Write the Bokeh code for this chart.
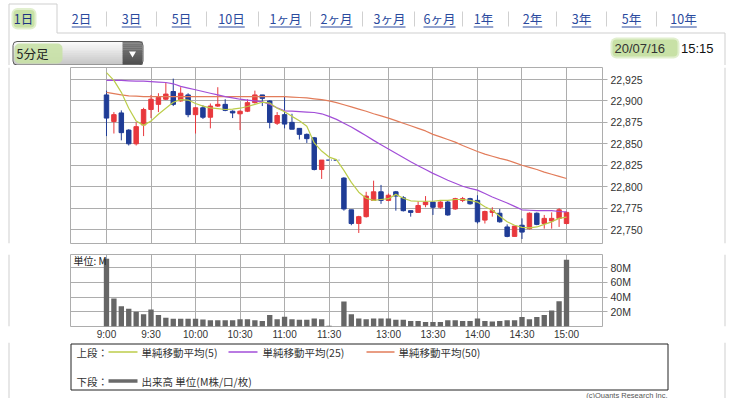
from bokeh.plotting import figure
from bokeh.layouts import column, row
from bokeh.models import Range1d, LinearAxis, FixedTicker, NumeralTickFormatter, Grid
from bokeh.core.properties import value
from bokeh.embed import file_html
from bokeh.resources import INLINE

# ---------------- data ----------------
tab_labels = ["1日", "2日", "3日", "5日", "10日", "1ヶ月", "2ヶ月", "3ヶ月", "6ヶ月",
              "1年", "2年", "3年", "5年", "10年"]
interval_label = "5分足"
date_label = "20/07/16"
clock_label = "15:15"
unit_label = "単位: M"
credit_label = "(c)Quants Research Inc."

time_labels = ["9:00", "9:30", "10:00", "10:30", "11:00", "11:30",
               "13:00", "13:30", "14:00", "14:30", "15:00"]
time_positions = [0, 6, 12, 18, 24, 30, 38, 44, 50, 56, 62]
price_ticks = [22750, 22775, 22800, 22825, 22850, 22875, 22900, 22925]
volume_ticks = [20, 40, 60, 80]
volume_tick_labels = ["20M", "40M", "60M", "80M"]

bars = list(range(63))
opens = [22907, 22876, 22886, 22866, 22850, 22872, 22890, 22896, 22902, 22911,
         22900, 22907, 22884, 22892, 22881, 22894, 22896, 22888, 22885, 22888,
         22898, 22907, 22900, 22874, 22884, 22875, 22868, 22861, 22857, 22820,
         22831, 22831, 22810, 22773, 22757, 22765, 22784, 22794, 22784, 22794,
         22787, 22772, 22770, 22779, 22782, 22776, 22782, 22774, 22784, 22786,
         22784, 22761, 22770, 22769, 22753, 22742, 22755, 22751, 22769, 22757,
         22760, 22763, 22757]
highs = [22912, 22887, 22889, 22867, 22875, 22892, 22907, 22909, 22921, 22926,
         22916, 22909, 22893, 22895, 22897, 22916, 22902, 22889, 22889, 22902,
         22912, 22907, 22901, 22887, 22905, 22885, 22868, 22862, 22858, 22831,
         22831, 22831, 22811, 22773, 22766, 22794, 22807, 22802, 22792, 22795,
         22789, 22772, 22783, 22789, 22782, 22783, 22784, 22787, 22788, 22787,
         22790, 22772, 22776, 22774, 22756, 22754, 22763, 22770, 22770, 22767,
         22770, 22775, 22771]
lows = [22859, 22862, 22854, 22848, 22848, 22859, 22880, 22887, 22901, 22894,
        22899, 22881, 22862, 22879, 22868, 22893, 22888, 22880, 22866, 22887,
        22897, 22894, 22868, 22872, 22868, 22867, 22855, 22851, 22819, 22809,
        22831, 22831, 22772, 22755, 22746, 22764, 22784, 22780, 22783, 22772,
        22771, 22765, 22770, 22776, 22767, 22774, 22766, 22773, 22782, 22779,
        22757, 22757, 22765, 22758, 22741, 22742, 22739, 22750, 22755, 22751,
        22751, 22753, 22756]
closes = [22880, 22884, 22863, 22850, 22870, 22890, 22902, 22904, 22908, 22896,
          22909, 22884, 22892, 22881, 22894, 22896, 22889, 22886, 22888, 22898,
          22907, 22903, 22875, 22883, 22873, 22867, 22861, 22856, 22820, 22831,
          22831, 22831, 22774, 22757, 22765, 22789, 22794, 22784, 22790, 22789,
          22772, 22770, 22778, 22782, 22776, 22782, 22767, 22786, 22786, 22780,
          22759, 22771, 22772, 22759, 22742, 22754, 22747, 22769, 22756, 22763,
          22763, 22773, 22770]
volumes = [92, 38, 27.5, 24, 20, 16.5, 23, 15.5, 12, 10.5,
           10.5, 10.5, 10.5, 9.5, 8.5, 8.5, 8.5, 8.5, 9.8, 9.8,
           8.5, 7.5, 15.5, 10, 13.3, 10, 9, 9, 10.7, 10,
           1, 0, 34, 16.5, 10.7, 9.8, 10.7, 10.7, 10.7, 9,
           9, 7.6, 7.6, 6.2, 6.2, 6.2, 8.4, 8.4, 7.6, 7.6,
           10.7, 7.6, 6.7, 7.6, 8.4, 8.4, 12.9, 9.8, 12.9, 15.6,
           21.8, 34.2, 90.7]
ma5 = [22933, 22924, 22910, 22891.5, 22876.5, 22871.5, 22876.5, 22884.5, 22891.5, 22898.5,
       22901.5, 22901, 22897, 22894, 22892, 22891, 22890, 22890.5, 22891.5, 22893.5,
       22896, 22898.5, 22897.5, 22891.5, 22887.5, 22882, 22877, 22870.5, 22851, 22841.5,
       22834.5, 22831.5, 22819, 22805, 22793.5, 22786.5, 22784, 22785, 22786, 22791,
       22786.5, 22783.5, 22783, 22783, 22783, 22784, 22784, 22785, 22785, 22784,
       22782, 22776.5, 22772.5, 22765.5, 22759, 22755, 22752.5, 22752, 22753, 22756,
       22759, 22763, 22764.5]
ma25 = [22924, 22924, 22924, 22923.5, 22923, 22923, 22922.5, 22922, 22921.5, 22920,
        22917, 22915, 22913, 22911, 22909, 22907, 22905, 22903.5, 22902, 22901,
        22900, 22899, 22896, 22892, 22888.5, 22888, 22887.5, 22887, 22886.5, 22885,
        22882, 22878.5, 22874, 22869.5, 22864.5, 22859.5, 22854, 22849, 22844, 22839,
        22834, 22829, 22824.5, 22820, 22815.5, 22811.5, 22807.5, 22804, 22800.5, 22798,
        22796, 22792, 22788, 22784.5, 22781, 22777, 22773, 22772.5, 22772, 22772,
        22772, 22771, 22770.5]
ma50 = [22910, 22908.5, 22907, 22906, 22905.5, 22905, 22905, 22905, 22905, 22905,
        22905, 22905, 22905, 22905, 22905, 22905, 22905, 22905, 22905, 22905,
        22905, 22905, 22905, 22905, 22905, 22904.5, 22904, 22903.5, 22902.5, 22901.5,
        22900, 22898, 22895.5, 22893, 22890.5, 22888, 22885, 22882.5, 22880, 22877,
        22874, 22871, 22868, 22865, 22861, 22858, 22855, 22852, 22848, 22844.5,
        22841, 22838, 22835.5, 22833, 22831, 22828, 22825, 22822.5, 22820, 22817,
        22814.5, 22812, 22809.5]
legend_upper = ["単純移動平均(5)", "単純移動平均(25)", "単純移動平均(50)"]
legend_lower = "出来高 単位(M株/口/枚)"

# ---------------- styles ----------------
RED = "#e8383d"
BLUE = "#1f3c96"
C_MA5 = "#bccd4a"
C_MA25 = "#a24ed8"
C_MA50 = "#e27c5a"
GRID = "#adadad"
VOL = "#666666"
PANEL = "#cfcfcf"
TXT = "#333333"
LINK = "#2a4a9e"
GREEN = "#c8e1a6"
JP = value("Noto Sans CJK JP")
LAT = value("Liberation Sans")


def canvas(w, h, x0, y0):
    c = figure(width=w, height=h, x_range=Range1d(x0, x0 + w), y_range=Range1d(y0 + h, y0),
               x_axis_location=None, y_axis_location=None, toolbar_location=None,
               output_backend="svg", min_border=0, outline_line_color=None,
               background_fill_color="white", border_fill_color="white")
    c.grid.visible = False
    return c


def side_pad(w, h, x0, y0, line_x):
    c = canvas(w, h, x0, y0)
    c.segment(x0=[line_x], y0=[y0], x1=[line_x], y1=[y0 + h], line_color=PANEL, line_width=1)
    return c


# ---------------- header (page pixels 0..736 x 0..65) ----------------
hd = canvas(736, 65, 0, 0)
hd.quad(left=[8.5], right=[56.5], top=[3.5], bottom=[33], fill_color="white", line_color=None)
hd.segment(x0=[8.5, 8.5, 56.5, 56.5, 724.5], y0=[3.5, 3.5, 3.5, 32.5, 32.5],
           x1=[8.5, 56.5, 56.5, 724.5, 724.5], y1=[65, 3.5, 32.5, 32.5, 65],
           line_color=PANEL, line_width=1)
hd.quad(left=[11], right=[36], top=[7.5], bottom=[29], fill_color=GREEN, fill_alpha=0.55,
        line_color=None, border_radius=6)
hd.quad(left=[13], right=[34], top=[9.5], bottom=[27], fill_color=GREEN, line_color=None,
        border_radius=4)

tab_x = [23, 81, 131, 181, 231, 285, 336, 389, 439, 483, 532, 581, 631, 683]
tab_cols = ["#1c3481"] + [LINK] * (len(tab_labels) - 1)
hd.text(x=tab_x, y=[18] * len(tab_x), text=tab_labels, text_align="center",
        text_baseline="middle", text_font=JP, text_font_size="12.5px", text_color=tab_cols)


def label_w(s):
    return sum(7.0 if ch.isdigit() else 12.5 for ch in s)


ul_x0 = [x - label_w(s) / 2 for x, s in zip(tab_x[1:], tab_labels[1:])]
ul_x1 = [x + label_w(s) / 2 for x, s in zip(tab_x[1:], tab_labels[1:])]
hd.segment(x0=ul_x0, x1=ul_x1, y0=[26.5] * len(ul_x0), y1=[26.5] * len(ul_x0),
           line_color=LINK, line_width=1)
sep_x = [106, 156, 206, 258, 310, 362, 414, 462, 508, 556, 606, 656]
hd.segment(x0=sep_x, x1=sep_x, y0=[11] * len(sep_x), y1=[26] * len(sep_x),
           line_color="#d0d0d0", line_width=1)

# dropdown
n = 12
for k in range(n):
    t = 41 + k * 23 / n
    g = int(250 - 50 * k / (n - 1))
    hd.quad(left=[13], right=[122], top=[t], bottom=[t + 23 / n + 0.3],
            fill_color=f"#{g:02x}{g:02x}{g:02x}", line_color=None)
    g2 = int(125 - 45 * k / (n - 1))
    hd.quad(left=[122], right=[142], top=[t], bottom=[t + 23 / n + 0.3],
            fill_color=f"#{g2:02x}{g2:02x}{g2:02x}", line_color=None)
hd.quad(left=[12.5], right=[142.5], top=[41], bottom=[64.5], fill_color=None,
        line_color="#5a5a5a", line_width=1, border_radius=4)
hd.scatter(x=[132], y=[53], marker="inverted_triangle", size=7, fill_color="white",
           line_color=None)
hd.quad(left=[14], right=[62], top=[43], bottom=[63], fill_color=GREEN, fill_alpha=0.9,
        line_color=None, border_radius=5)
hd.text(x=[16], y=[53], text=[interval_label], text_align="left", text_baseline="middle",
        text_font=JP, text_font_size="12.5px", text_color="#222222")

# date
hd.quad(left=[610], right=[679], top=[37], bottom=[58], fill_color=GREEN, fill_alpha=0.55,
        line_color=None, border_radius=6)
hd.quad(left=[612], right=[677], top=[39], bottom=[56], fill_color=GREEN,
        line_color=None, border_radius=4)
hd.text(x=[614], y=[47.5], text=[date_label], text_align="left", text_baseline="middle",
        text_font=LAT, text_font_size="13px", text_color=TXT)
hd.text(x=[680.5], y=[47.5], text=[clock_label], text_align="left", text_baseline="middle",
        text_font=LAT, text_font_size="13px", text_color="#111111")

# ---------------- price chart ----------------
X_RANGE = (-4.85, 66.85)
pf = figure(width=662, height=182, x_range=Range1d(*X_RANGE), y_range=Range1d(22733.7, 22939.0),
            x_axis_location=None, y_axis_location=None, toolbar_location=None,
            output_backend="svg", min_border_left=58, min_border_right=72,
            min_border_top=2, min_border_bottom=4, outline_line_color=GRID,
            background_fill_color="white", border_fill_color="white")
pf.grid.visible = False
pf.add_layout(Grid(dimension=0, ticker=FixedTicker(ticks=time_positions), grid_line_color=GRID))
pf.add_layout(Grid(dimension=1, ticker=FixedTicker(ticks=price_ticks), grid_line_color=GRID))
pax = LinearAxis(ticker=FixedTicker(ticks=price_ticks), formatter=NumeralTickFormatter(format="0,0"),
                 axis_line_color=None, major_tick_out=5, major_tick_in=0,
                 major_tick_line_color=GRID, minor_tick_line_color=None,
                 major_label_text_font="Liberation Sans", major_label_text_font_size="10.5px",
                 major_label_text_color=TXT, major_label_standoff=3)
pf.add_layout(pax, "right")

cols = [RED if c > o else BLUE for o, c in zip(opens, closes)]
pf.segment(x0=bars, y0=lows, x1=bars, y1=highs, line_color=cols, line_width=1)
nd = [i for i in bars if opens[i] != closes[i]]
dj = [i for i in bars if opens[i] == closes[i]]
pf.vbar(x=nd, width=0.6, top=[max(opens[i], closes[i]) for i in nd],
        bottom=[min(opens[i], closes[i]) for i in nd],
        fill_color=[cols[i] for i in nd], line_color=[cols[i] for i in nd], line_width=1)
pf.segment(x0=[i - 0.38 for i in dj], x1=[i + 0.38 for i in dj], y0=[closes[i] for i in dj],
           y1=[closes[i] for i in dj], line_color=BLUE, line_width=1.3, line_dash="3 2")
pf.line(bars, ma50, line_color=C_MA50, line_width=1.2)
pf.line(bars, ma25, line_color=C_MA25, line_width=1.2)
pf.line(bars, ma5, line_color=C_MA5, line_width=1.2)

# ---------------- volume chart ----------------
vf = figure(width=662, height=95, x_range=Range1d(*X_RANGE), y_range=Range1d(0, 97.7),
            x_axis_location=None, y_axis_location=None, toolbar_location=None,
            output_backend="svg", min_border_left=58, min_border_right=72,
            min_border_top=7, min_border_bottom=15, outline_line_color=GRID,
            background_fill_color="white", border_fill_color="white")
vf.grid.visible = False
vf.add_layout(Grid(dimension=0, ticker=FixedTicker(ticks=time_positions), grid_line_color=GRID))
vf.add_layout(Grid(dimension=1, ticker=FixedTicker(ticks=volume_ticks), grid_line_color=GRID))
vax = LinearAxis(ticker=FixedTicker(ticks=volume_ticks),
                 major_label_overrides={v: s for v, s in zip(volume_ticks, volume_tick_labels)},
                 axis_line_color=None, major_tick_out=5, major_tick_in=0,
                 major_tick_line_color=GRID, minor_tick_line_color=None,
                 major_label_text_font="Liberation Sans", major_label_text_font_size="10.5px",
                 major_label_text_color=TXT, major_label_standoff=3)
vf.add_layout(vax, "right")
xax = LinearAxis(ticker=FixedTicker(ticks=time_positions),
                 major_label_overrides={p: s for p, s in zip(time_positions, time_labels)},
                 axis_line_color=None, major_tick_out=0, major_tick_in=0,
                 minor_tick_line_color=None, major_label_text_font="Liberation Sans",
                 major_label_text_font_size="10px", major_label_text_color=TXT,
                 major_label_standoff=2)
vf.add_layout(xax, "below")
vf.vbar(x=bars, top=volumes, width=0.72, fill_color=VOL, line_color=None)
vf.text(x=[-4.45], y=[89], text=[unit_label], text_align="left", text_baseline="middle",
        text_font=JP, text_font_size="10px", text_color="#222222")

# ---------------- legend (page pixels y 342..398) ----------------
lg = canvas(736, 56, 0, 342)
lg.segment(x0=[8.5, 724.5], x1=[8.5, 724.5], y0=[342, 342], y1=[398, 398],
           line_color=PANEL, line_width=1)
lg.quad(left=[70.5], right=[667.5], top=[343.5], bottom=[389.5], fill_color=None,
        line_color="#222222", line_width=1)
lg.text(x=[76, 76], y=[351.5, 380.5], text=["上段：", "下段："], text_align="left",
        text_baseline="middle", text_font=JP, text_font_size="10.5px", text_color=TXT)
lg.segment(x0=[108, 228, 366], x1=[137, 257, 394], y0=[351.5] * 3, y1=[351.5] * 3,
           line_color=[C_MA5, C_MA25, C_MA50], line_width=1.3)
lg.text(x=[141, 262, 398], y=[351.5] * 3, text=legend_upper, text_align="left",
        text_baseline="middle", text_font=JP, text_font_size="10.5px", text_color=TXT)
lg.segment(x0=[108], x1=[137], y0=[380.5], y1=[380.5], line_color="#6a6a6a", line_width=3.5)
lg.text(x=[141], y=[380.5], text=[legend_lower], text_align="left", text_baseline="middle",
        text_font=JP, text_font_size="10.5px", text_color=TXT)
lg.text(x=[667], y=[394.5], text=[credit_label], text_align="right", text_baseline="middle",
        text_font=LAT, text_font_size="7.5px", text_color="#555555")

layout = column(
    hd,
    row(side_pad(12, 182, 0, 65, 8.5), pf, side_pad(62, 182, 674, 65, 724.5)),
    row(side_pad(12, 95, 0, 247, 8.5), vf, side_pad(62, 95, 674, 247, 724.5)),
    lg,
)

open("out.html", "w").write(file_html(layout, INLINE))
